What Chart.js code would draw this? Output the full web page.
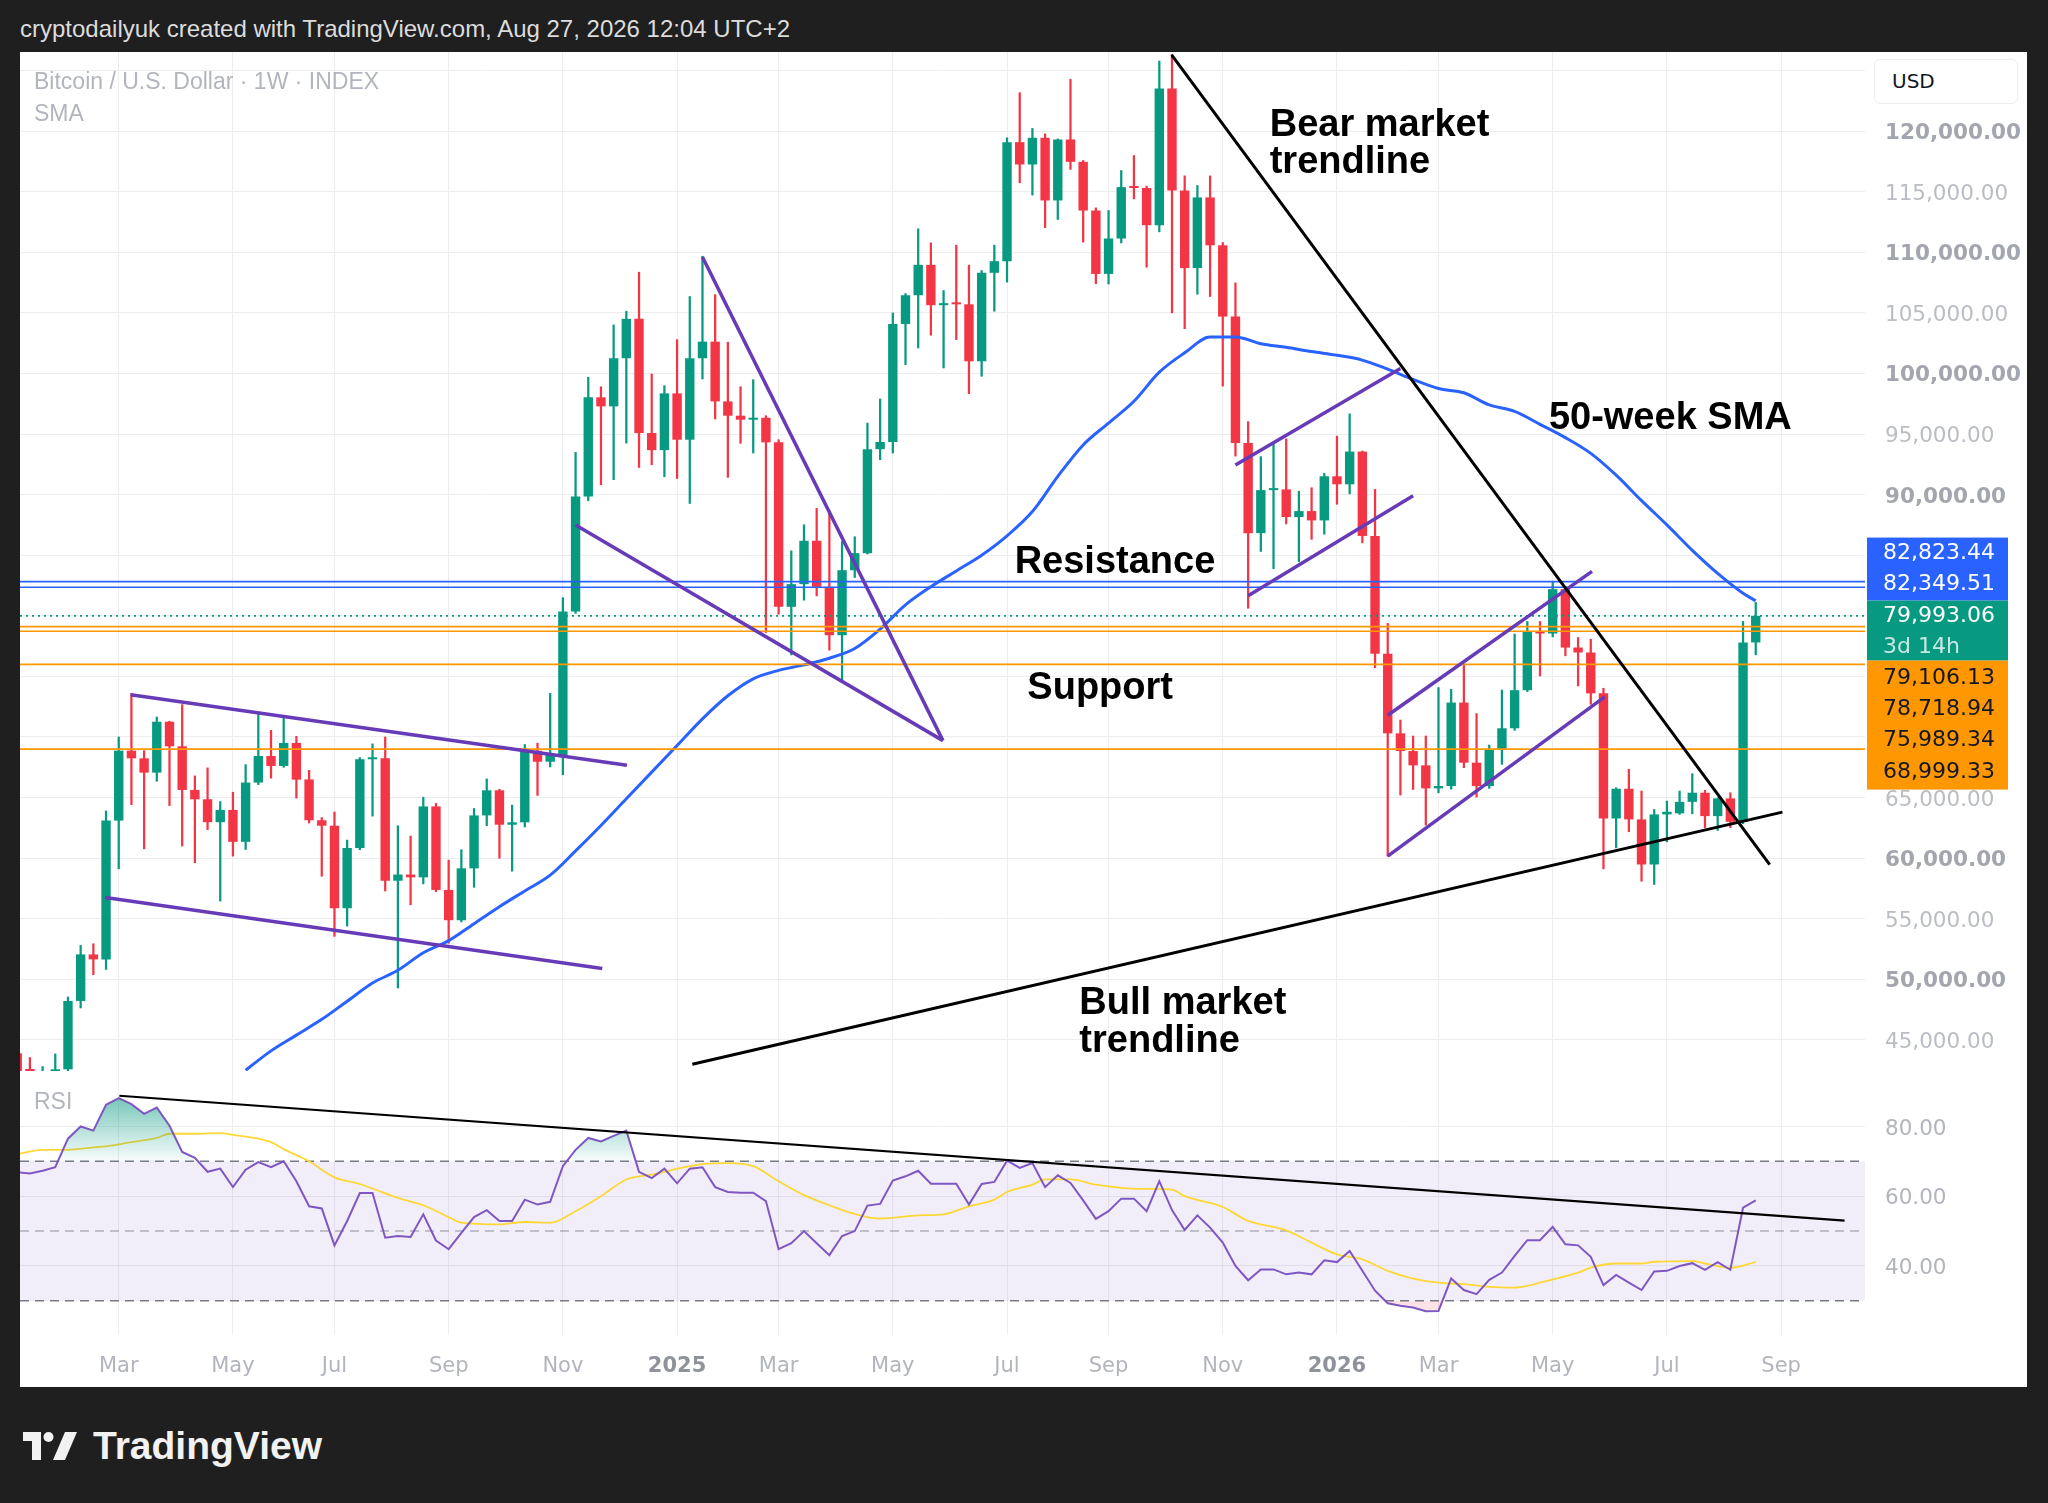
<!DOCTYPE html>
<html lang="en">
<head>
<meta charset="utf-8">
<title>Bitcoin / U.S. Dollar · 1W</title>
<script src="https://cdn.jsdelivr.net/npm/chart.js@4.4.1/dist/chart.umd.min.js"></script>
<style>
  html, body { margin: 0; padding: 0; }
  body { width: 2048px; height: 1503px; background: #1f1f1f; position: relative; overflow: hidden;
         font-family: "Liberation Sans", Arial, sans-serif; }
  #header { position: absolute; left: 20px; top: 15px; font-size: 24px; line-height: 28px; color: #dcdcdc; white-space: nowrap; }
  #panel { position: absolute; left: 20px; top: 52px; width: 2007px; height: 1335px; background: #fff; }
  #mainBox { position: absolute; left: 0; top: 0; width: 2007px; height: 1019px; }
  #rsiBox { position: absolute; left: 0; top: 1019px; width: 2007px; height: 316px; }
  .tag { position: absolute; left: 14px; font-size: 23px; line-height: 26px; color: #b2b5be; white-space: nowrap; }
  #usd { position: absolute; left: 1854px; top: 7px; width: 144px; height: 45px; box-sizing: border-box;
         border: 1px solid #eceef2; border-radius: 6px; background: #fff; color: #131722;
         font-family: "DejaVu Sans", sans-serif; font-size: 20px; line-height: 43px; padding-left: 17px; }
  #footer { position: absolute; left: 23px; top: 1431px; height: 30px; display: flex; align-items: center; }
  #footer span { color: #f2f2f2; font-weight: bold; font-size: 39px; margin-left: 14px; }
</style>
</head>
<body>
<div id="header">cryptodailyuk created with TradingView.com, Aug 27, 2026 12:04 UTC+2</div>
<div id="panel">
  <div id="mainBox"><canvas id="mainChart"></canvas></div>
  <div id="rsiBox"><canvas id="rsiChart"></canvas></div>
  <div class="tag" style="top:16px">Bitcoin / U.S. Dollar · 1W · INDEX</div>
  <div class="tag" style="top:48px">SMA</div>
  <div class="tag" style="top:1036px">RSI</div>
  <div id="usd">USD</div>
</div>
<div id="footer">
  <svg width="56" height="28" viewBox="0 0 56 28"><path fill="#f2f2f2" d="M0 0h18v28h-9v-19h-9z"/><circle cx="25.5" cy="5" r="5" fill="#f2f2f2"/><path fill="#f2f2f2" d="M42 0h12l-12 28h-12z"/></svg>
  <span>TradingView</span>
</div>
<script>
// weekly candles, first bar = week of 8 Jan 2024
const opens = [
  43900, 41700, 41600, 42030, 42580, 48220, 52060, 51650, 63100, 68870,
  68240, 67060, 71260, 69230, 65630, 64860, 62970, 63980, 61350, 66240,
  68430, 67610, 69510, 66500, 63130, 62680, 55870, 60840, 68160, 68250,
  58140, 58650, 58420, 64270, 57380, 54880, 59160, 63530, 65600, 62760,
  62960, 68860, 67960, 68520, 80350, 89850, 98030, 97280, 101250, 104500,
  95080, 93670, 98350, 94530, 101250, 102620, 97690, 96510, 96180, 96340,
  94310, 80740, 82610, 86190, 82390, 78400, 83760, 85170, 93750, 94340,
  104080, 106450, 108960, 105630, 105790, 105700, 101000, 108300, 109260, 119080,
  117240, 119440, 114270, 119300, 117460, 113440, 108210, 111130, 115370, 115300,
  112230, 123510, 115090, 108690, 114520, 110570, 104690, 94260, 86820, 90370,
  90430, 88150, 88640, 87870, 91510, 90850, 93550, 86590, 76870, 70300,
  68840, 67660, 65760, 65950, 72840, 67880, 65950, 68980, 70720, 73860,
  78680, 78540, 82200, 77380, 76970, 73600, 63280, 65730, 63200, 59480,
  63610, 63700, 64650, 65400, 63470, 64930, 63000, 77800
];
const highs = [
  48900, 43550, 42800, 43850, 48550, 52800, 52940, 63900, 70000, 73600,
  68870, 71650, 71300, 72670, 66790, 67450, 64670, 65440, 67720, 71950,
  70550, 71590, 70060, 67250, 63350, 63810, 61490, 68300, 69430, 70000,
  62680, 61830, 65030, 64520, 59840, 60700, 64100, 66540, 65690, 64380,
  69380, 69490, 73600, 81490, 93480, 99680, 98900, 104000, 105130, 108350,
  99950, 98990, 102790, 106340, 109670, 106500, 102570, 98900, 99480, 96510,
  94530, 85360, 87510, 88860, 88670, 86130, 86520, 95900, 97890, 104990,
  106590, 111930, 110770, 106840, 110580, 108930, 108490, 110580, 119440, 123160,
  120210, 119770, 119350, 124260, 117570, 113660, 113440, 116740, 117980, 115450,
  125770, 126300, 116300, 115510, 116300, 110800, 107470, 96020, 93130, 94200,
  94600, 90280, 90570, 91760, 94830, 96660, 93600, 90430, 79370, 71400,
  70080, 70080, 74080, 73940, 76010, 71930, 69340, 73880, 78490, 79530,
  79530, 82840, 82340, 78210, 78070, 74020, 65810, 67330, 65540, 64020,
  64710, 65540, 66970, 65590, 64980, 65400, 79530, 81100
];
const lows = [
  41400, 40300, 38500, 41880, 42260, 47640, 50390, 50820, 59120, 64420,
  60770, 66350, 64340, 61000, 59620, 62360, 56460, 60170, 60720, 66070,
  66600, 67500, 64950, 62900, 58510, 53550, 54400, 60700, 63470, 57290,
  49290, 56150, 57880, 57230, 52980, 54740, 57600, 62680, 59990, 58930,
  62570, 65180, 67530, 66880, 80200, 89490, 90810, 91230, 94250, 92240,
  92460, 91470, 91330, 89270, 99540, 96240, 91420, 94230, 93430, 78620,
  80130, 76770, 81290, 81640, 77160, 74570, 83160, 85100, 92880, 93430,
  100730, 102100, 103150, 100450, 102790, 98330, 99760, 105130, 107530, 115730,
  114710, 112030, 112700, 116830, 110830, 107410, 107380, 110770, 114400, 108760,
  111680, 104990, 103690, 106530, 106340, 98950, 93180, 80620, 85310, 83890,
  87580, 84460, 86310, 86730, 89200, 90060, 86020, 75710, 60160, 65210,
  65670, 62730, 65400, 65700, 67470, 65040, 65760, 67740, 70550, 73750,
  75040, 78260, 76700, 74210, 72700, 59120, 60850, 62180, 58100, 57830,
  61350, 63610, 63660, 62510, 62290, 62510, 62840, 76780
];
const closes = [
  41700, 41600, 42030, 42580, 48220, 52060, 51650, 63100, 68870, 68240,
  67060, 71260, 69230, 65630, 64860, 62970, 63980, 61350, 66240, 68430,
  67610, 69510, 66480, 63130, 62680, 55870, 60840, 68160, 68250, 58140,
  58650, 58420, 64270, 57380, 54880, 59160, 63530, 65600, 62760, 62960,
  68860, 67960, 68520, 80350, 89850, 98030, 97280, 101250, 104500, 95080,
  93670, 98350, 94530, 101250, 102620, 97690, 96510, 96180, 96340, 94310,
  80740, 82610, 86190, 82390, 78400, 83760, 85170, 93750, 94340, 104080,
  106450, 108960, 105630, 105790, 105700, 101000, 108300, 109260, 119080, 117240,
  119440, 114270, 119300, 117460, 113440, 108210, 111130, 115370, 115300, 112230,
  123510, 115090, 108690, 114520, 110570, 104690, 94260, 86820, 90370, 90430,
  88150, 88640, 87870, 91510, 90850, 93550, 86590, 76870, 70300, 68840,
  67660, 65760, 65950, 72840, 67880, 65950, 68980, 70720, 73860, 78680,
  78540, 82200, 77380, 76970, 73600, 63280, 65730, 63200, 59480, 63610,
  63830, 64650, 65400, 63470, 64930, 63000, 77800, 79993.06
];

// 50-week SMA (week index, value)
const smaWeeks = [18, 20, 22, 24, 26, 28, 30, 32, 34, 36, 38, 40, 42, 44, 46, 48, 50, 52, 54, 56,
  58, 60, 62, 64, 66, 68, 70, 72, 74, 76, 78, 80, 82, 84, 86, 88, 90, 92, 94, 96,
  98, 100, 102, 104, 106, 108, 110, 112, 114, 116, 118, 120, 122, 124, 126, 128, 130, 132, 134, 136, 137];
const smaValues = [42500, 44100, 45400, 46700, 48200, 49700, 50750, 52200, 53200, 54600,
  56000, 57300, 58600, 60600, 62700, 64900, 67100, 69300, 71500, 73400,
  74800, 75500, 75950, 76500, 77300, 78900, 80900, 82400, 83700, 85000,
  86600, 88600, 91500, 94100, 95900, 97700, 100100, 101700, 103000, 103000,
  102450, 102150, 101800, 101500, 101100, 100350, 99500, 98750, 98400, 97400,
  96870, 95800, 94700, 93400, 91600, 89500, 87500, 85400, 83500, 81860, 81240];

// RSI(14) per week and its moving average
const rsiValues = [
  66.9, 66.5, 67.3, 68.3, 76.5, 80.0, 78.8, 86.2, 88.1, 86.4,
  83.6, 85.4, 80.2, 72.7, 71.0, 67.0, 67.9, 62.6, 67.6, 69.8,
  68.3, 70.0, 64.3, 57.1, 56.5, 45.9, 52.9, 60.9, 60.9, 48.1,
  48.6, 48.3, 54.8, 47.3, 44.8, 49.5, 54.0, 56.0, 52.9, 52.9,
  59.0, 57.6, 58.4, 68.6, 73.3, 76.7, 75.7, 77.3, 78.8, 67.0,
  65.2, 67.9, 63.7, 67.9, 68.3, 62.6, 61.2, 61.0, 61.0, 58.6,
  44.8, 46.5, 50.0, 46.5, 43.1, 48.6, 50.0, 57.3, 57.8, 64.5,
  65.7, 67.3, 63.6, 63.6, 63.6, 57.6, 63.5, 64.1, 70.2, 68.1,
  69.5, 62.6, 66.0, 63.8, 58.8, 53.5, 55.7, 59.3, 59.3, 55.7,
  64.3, 56.0, 50.3, 54.5, 51.0, 46.7, 40.0, 35.9, 39.0, 39.0,
  37.6, 38.1, 37.6, 41.6, 41.1, 44.3, 38.6, 32.9, 29.3, 28.6,
  28.1, 27.0, 27.1, 36.4, 33.1, 31.9, 36.0, 38.1, 42.9, 47.4,
  47.4, 51.2, 46.2, 45.9, 42.6, 34.5, 37.4, 35.2, 33.1, 38.4,
  38.6, 40.0, 40.8, 38.9, 41.1, 38.9, 56.7, 58.8
];
const rsiMaWeeks = [0, 2, 4, 6, 7, 9, 11, 12, 14, 16, 17, 19, 20, 21, 23, 25, 27, 28, 30, 32,
  34, 35, 38, 40, 42, 44, 46, 48, 50, 53, 54, 56, 58, 60, 62, 64, 66, 68, 71, 73,
  75, 77, 78, 80, 81, 83, 85, 87, 89, 91, 92, 95, 97, 100, 102, 104, 106, 108, 110, 112,
  114, 116, 118, 119, 120, 123, 124, 126, 128, 129, 132, 133, 135, 137];
const rsiMaValues = [72.1, 73.3, 73.3, 74.0, 74.3, 75.5, 76.7, 77.9, 77.9, 78.1,
  77.6, 76.5, 75.5, 73.5, 70.0, 65.4, 63.5, 62.2, 59.5, 57.4,
  54.0, 52.4, 51.9, 52.6, 52.4, 55.7, 60.0, 64.8, 66.2, 68.6,
  69.2, 69.5, 68.6, 64.3, 60.3, 57.4, 54.9, 53.6, 54.5, 54.8,
  57.1, 59.0, 61.2, 63.3, 64.8, 64.8, 63.3, 62.4, 62.1, 61.9,
  60.0, 56.9, 52.9, 50.2, 46.7, 43.3, 41.9, 38.6, 36.4, 35.2,
  34.8, 34.0, 33.8, 34.3, 35.2, 38.1, 39.5, 40.7, 40.7, 41.2,
  41.4, 40.7, 39.5, 41.1];

// axes
const tickWeeks = [8, 17, 25, 34, 43, 52, 60, 69, 78, 86, 95, 104, 112, 121, 130, 139];
const tickLabels = ['Mar', 'May', 'Jul', 'Sep', 'Nov', '2025', 'Mar', 'May', 'Jul', 'Sep', 'Nov', '2026', 'Mar', 'May', 'Jul', 'Sep'];
const priceTicks = [45000, 50000, 55000, 60000, 65000, 70000, 75000, 80000, 85000, 90000,
  95000, 100000, 105000, 110000, 115000, 120000, 125000];
const rsiTicks = [40, 60, 80];

// horizontal levels
const resistance = [82823.44, 82349.51];
const supports = [79106.13, 78718.94, 75989.34, 68999.33];
const lastPrice = 79993.06;
const countdown = '3d 14h';

// drawn trend lines: [week, price] end points
const purpleLines = [
  [[6.94, 56760], [46.1, 50900]],
  [[8.94, 73480], [48.05, 67660]],
  [[44.0, 87500], [72.95, 69700]],
  [[54.0, 109600], [72.95, 69700]],
  [[96.0, 92450], [109.0, 100400]],
  [[97.0, 81650], [110.0, 89900]],
  [[108.0, 71790], [124.1, 83670]],
  [[108.0, 60170], [125.1, 73310]]
];
const blackLines = [
  [[90.97, 126280], [138.1, 59470]],
  [[53.2, 43000], [139.1, 63800]]
];
const rsiTrend = [[8.05, 88.8], [144.0, 53.0]];

const notes = [
  { week: 98.7, price: 120825, lines: ['Bear market', 'trendline'] },
  { week: 120.7, price: 96570, lines: ['50-week SMA'] },
  { week: 78.6, price: 84690, lines: ['Resistance'] },
  { week: 79.6, price: 74370, lines: ['Support'] },
  { week: 83.7, price: 48300, lines: ['Bull market', 'trendline'] }
];

const X_MIN = 0.22, X_MAX = 145.61;
const P_MIN = 42440, P_MAX = 126520;
const R_MIN = 20.2, R_MAX = 95.9;
const GREEN = '#089981', RED = '#f23645', BLUE = '#2962ff', ORANGE = '#ff9800', PURPLE = '#673ab7';
const GRID = '#ededf0';
const AXIS_FONT = 'DejaVu Sans';

Chart.defaults.font.family = AXIS_FONT;
Chart.defaults.animation = false;

const fmt = v => v.toLocaleString('en-US', { minimumFractionDigits: 2, maximumFractionDigits: 2 });
const weeks = closes.map((_, i) => i);
const candleColor = c => (closes[c.dataIndex] >= opens[c.dataIndex] ? GREEN : RED);
const seg = (pts, color, width, order, extra) => Object.assign({
  type: 'line',
  data: pts.map(p => ({ x: p[0], y: p[1] })),
  borderColor: color,
  borderWidth: width,
  pointRadius: 0,
  fill: false,
  order: order
}, extra || {});
const level = (v, color, extra) => seg([[X_MIN, v], [X_MAX, v]], color, 1.6, 6, extra);

const xBase = {
  type: 'linear', min: X_MIN, max: X_MAX, offset: false,
  grid: { color: GRID, drawTicks: false, offset: false },
  border: { display: false },
  afterBuildTicks: s => { s.ticks = tickWeeks.map(v => ({ value: v })); }
};

const notesPlugin = {
  id: 'notes',
  afterDatasetsDraw(chart) {
    const { ctx, scales: { x, y } } = chart;
    ctx.save();
    ctx.font = 'bold 38px "Liberation Sans", Arial, sans-serif';
    ctx.fillStyle = '#000';
    ctx.textBaseline = 'middle';
    notes.forEach(n => n.lines.forEach((t, k) => {
      ctx.fillText(t, x.getPixelForValue(n.week), y.getPixelForValue(n.price) + 4 + k * 37.5);
    }));
    ctx.restore();
  }
};

// coloured price labels on the right axis
const tagsPlugin = {
  id: 'priceTags',
  afterDraw(chart) {
    const { ctx, chartArea, scales: { y } } = chart;
    const left = chartArea.right + 2, w = 141;
    const top = y.getPixelForValue(resistance[0]) - 44;
    const groups = [
      { bg: BLUE, h: 63, rows: resistance.map(fmt), colors: ['#fff', '#fff'] },
      { bg: GREEN, h: 60, rows: [fmt(lastPrice), countdown], colors: ['#fff', 'rgba(255,255,255,0.78)'] },
      { bg: ORANGE, h: 129, rows: supports.map(fmt), colors: supports.map(() => '#131722') }
    ];
    ctx.save();
    let yTop = top;
    groups.forEach(g => { ctx.fillStyle = g.bg; ctx.fillRect(left, yTop, w, g.h); yTop += g.h; });
    ctx.font = '22px "' + AXIS_FONT + '"';
    ctx.textBaseline = 'middle';
    let k = 0;
    groups.forEach(g => g.rows.forEach((t, j) => {
      ctx.fillStyle = g.colors[j];
      ctx.fillText(t, left + 16, top + 16 + 31.2 * k);
      k++;
    }));
    ctx.restore();
  }
};

new Chart(document.getElementById('mainChart'), {
  type: 'bar',
  data: {
    datasets: [
      { type: 'bar', data: weeks.map(i => ({ x: i, y: [lows[i], highs[i]] })), backgroundColor: candleColor,
        barThickness: 1.6, grouped: false, minBarLength: 1, order: 20 },
      { type: 'bar', data: weeks.map(i => ({ x: i, y: [opens[i], closes[i]] })), backgroundColor: candleColor,
        categoryPercentage: 1, barPercentage: 0.74, grouped: false, minBarLength: 2, order: 19 },
      seg(smaWeeks.map((w, k) => [w, smaValues[k]]), BLUE, 3, 8, { cubicInterpolationMode: 'monotone' }),
      ...resistance.map(v => level(v, BLUE)),
      ...supports.map(v => level(v, ORANGE)),
      level(lastPrice, GREEN, { borderDash: [2, 4] }),
      ...purpleLines.map(l => seg(l, PURPLE, 3.5, 2)),
      ...blackLines.map(l => seg(l, '#000', 3, 1))
    ]
  },
  options: {
    responsive: true,
    maintainAspectRatio: false,
    events: [],
    layout: { padding: 0 },
    plugins: { legend: { display: false }, tooltip: { enabled: false } },
    scales: {
      x: Object.assign({}, xBase, {
        ticks: { display: false },
        afterFit: s => { s.height = 0; s.paddingLeft = 0; s.paddingRight = 0; }
      }),
      y: {
        type: 'linear', position: 'right', min: P_MIN, max: P_MAX,
        grid: { color: GRID, drawTicks: false },
        border: { display: false },
        ticks: {
          padding: 20,
          labelOffset: 2.5,
          color: c => (c.tick && c.tick.value % 10000 === 0 ? '#a3a6ae' : '#babdc4'),
          font: c => ({ family: AXIS_FONT, size: 21.5, weight: c.tick && c.tick.value % 10000 === 0 ? 'bold' : 'normal' }),
          callback: v => fmt(v)
        },
        afterBuildTicks: s => { s.ticks = priceTicks.map(v => ({ value: v })); },
        afterFit: s => { s.width = 162; s.paddingTop = 0; s.paddingBottom = 0; }
      }
    }
  },
  plugins: [notesPlugin, tagsPlugin]
});

const rsiPts = weeks.map(i => ({ x: i, y: rsiValues[i] }));
const rsiMaPts = rsiMaWeeks.map((w, k) => ({ x: w, y: rsiMaValues[k] }));
const overboughtFill = c => {
  const chart = c.chart;
  if (!chart.chartArea || !chart.scales.y) return 'rgba(8,153,129,0.25)';
  const y = chart.scales.y;
  const g = chart.ctx.createLinearGradient(0, y.getPixelForValue(90), 0, y.getPixelForValue(70));
  g.addColorStop(0, 'rgba(8,153,129,0.6)');
  g.addColorStop(1, 'rgba(8,153,129,0.03)');
  return g;
};

new Chart(document.getElementById('rsiChart'), {
  type: 'line',
  data: {
    datasets: [
      level(70, '#787b86', { borderDash: [9, 6], borderWidth: 1.5, order: 9,
        backgroundColor: 'rgba(126,87,194,0.1)', fill: { target: { value: 30 } } }),
      level(50, 'rgba(120,123,134,0.55)', { borderDash: [9, 6], borderWidth: 1.5, order: 8 }),
      level(30, '#787b86', { borderDash: [9, 6], borderWidth: 1.5, order: 8 }),
      { data: rsiPts, borderWidth: 0, borderColor: 'transparent', backgroundColor: 'rgba(242,54,69,0.14)',
        fill: { target: { value: 30 }, above: 'transparent' }, pointRadius: 0, order: 7 },
      { data: rsiMaPts, borderColor: '#fdd835', borderWidth: 1.8, fill: false, pointRadius: 0,
        cubicInterpolationMode: 'monotone', order: 5 },
      { data: rsiPts, borderColor: '#7e57c2', borderWidth: 2, backgroundColor: overboughtFill,
        fill: { target: { value: 70 }, below: 'transparent' }, pointRadius: 0, order: 4 },
      seg(rsiTrend, '#000', 2.2, 1)
    ]
  },
  options: {
    responsive: true,
    maintainAspectRatio: false,
    events: [],
    layout: { padding: 0 },
    plugins: { legend: { display: false }, tooltip: { enabled: false } },
    scales: {
      x: Object.assign({}, xBase, {
        ticks: {
          padding: 18.5, autoSkip: false, maxRotation: 0,
          color: c => (/^\d{4}$/.test(tickLabels[c.index]) ? '#8f929b' : '#b2b5be'),
          font: c => ({ family: AXIS_FONT, size: 21, weight: /^\d{4}$/.test(tickLabels[c.index]) ? 'bold' : 'normal' }),
          callback: (v, i) => tickLabels[i]
        },
        afterFit: s => { s.height = 52; s.paddingLeft = 0; s.paddingRight = 0; }
      }),
      y: {
        type: 'linear', position: 'right', min: R_MIN, max: R_MAX,
        grid: { color: GRID, drawTicks: false },
        border: { display: false },
        ticks: { padding: 20, labelOffset: 2.5, color: '#b2b5be', font: { size: 21.5 }, callback: v => v.toFixed(2) },
        afterBuildTicks: s => { s.ticks = rsiTicks.map(v => ({ value: v })); },
        afterFit: s => { s.width = 162; s.paddingTop = 0; s.paddingBottom = 0; }
      }
    }
  }
});
</script>
</body>
</html>
